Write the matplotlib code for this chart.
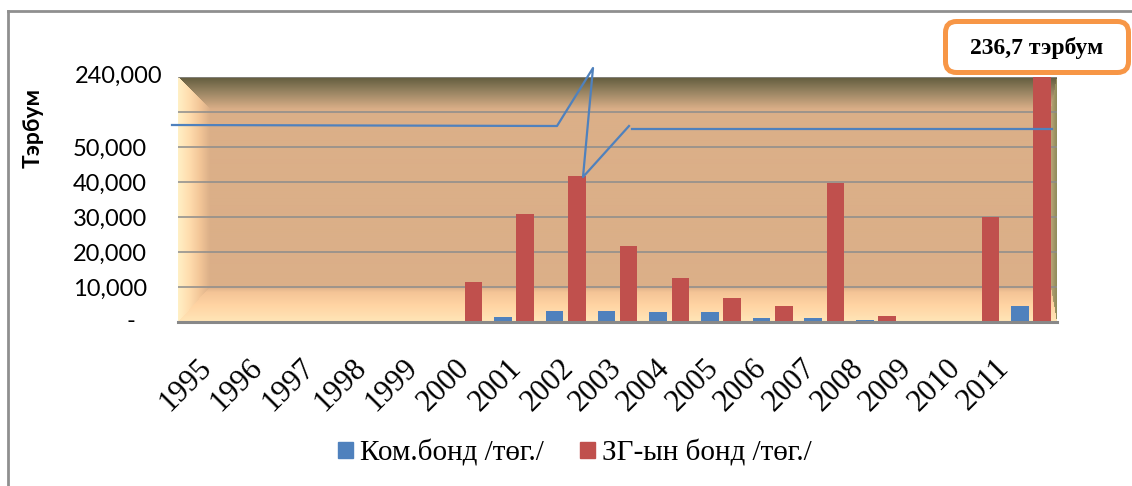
import numpy as np
import matplotlib
matplotlib.use("Agg")
import matplotlib.pyplot as plt
from matplotlib.lines import Line2D
from matplotlib.patches import FancyBboxPatch, Rectangle
from matplotlib.transforms import IdentityTransform, ScaledTranslation
from matplotlib.font_manager import FontProperties

# --- data ---
years = [str(y) for y in range(1995, 2012)]
kom_bond = [0, 0, 0, 0, 0, 0, 1400, 3100, 3100, 2900, 2900, 1200, 1200, 600, 0, 0, 4600]
zg_bond = [0, 0, 0, 0, 0, 11500, 30900, 41700, 21700, 12600, 6900, 4600, 39600, 1700, 0, 29900, 236700]
legend_labels = ["Ком.бонд /төг./", "ЗГ-ын бонд /төг./"]
ytick_vals = [10000, 20000, 30000, 40000, 50000]
ytick_labels = ["10,000", "20,000", "30,000", "40,000", "50,000"]
top_label = "240,000"
zero_label = "-"
callout = "236,7 тэрбум"
ylabel = "Тэрбум"

BLUE = "#4F81BD"
RED = "#C0504D"
SANS = ["Lato", "DejaVu Sans"]
SERIF = ["Liberation Serif", "DejaVu Serif"]

W, H = 1132, 486
fig = plt.figure(figsize=(W / 100, H / 100), dpi=100)
L, T, R, B = 178, 77, 1057, 322
ax = fig.add_axes([L / W, 1 - B / H, (R - L) / W, (B - T) / H])


# bevelled plot-area fill
def ramp(t, stops):
    pos = [s[0] for s in stops]
    cols = np.array([matplotlib.colors.to_rgb(s[1]) for s in stops])
    return np.stack([np.interp(t, pos, cols[:, k]) for k in range(3)], axis=-1)


pw, ph = R - L, B - T
xx, yy = np.meshgrid(np.arange(pw) + 0.5, np.arange(ph) + 0.5)
dist = np.stack([xx / 32, yy / 33, (ph - yy) / 35, (pw - xx) / 6])
which = dist.argmin(0)
t = dist.min(0).clip(0, 1)
tan = "#DBAF88"
bands = [
    [(0, "#FFF0C6"), (0.35, "#FFDDAE"), (0.7, "#F2C597"), (1, tan)],   # left
    [(0, "#5E593B"), (0.45, "#958260"), (1, tan)],                     # top
    [(0, "#FFE6B8"), (0.5, "#FFD3A2"), (0.85, "#F4C496"), (1, tan)],   # bottom
    [(0, "#8E8A5A"), (1, "#B9A476")],                                  # right
]
img = np.zeros((ph, pw, 3))
for i, st in enumerate(bands):
    m = which == i
    img[m] = ramp(t[m], st)
ax.imshow(img, extent=[0, 1, 0, 1], transform=ax.transAxes, aspect="auto",
          zorder=0, interpolation="bilinear")

# gridlines
for v in range(10000, 70001, 10000):
    ax.axhline(v, color="#8C8C8C", lw=1.1, zorder=2)
ax.axhline(0, color="#888888", lw=2.2, zorder=4, clip_on=False)

x = np.arange(len(years))
ax.bar(x - 0.215, kom_bond, 0.34, color=BLUE, zorder=3, label=legend_labels[0])
ax.bar(x + 0.215, zg_bond, 0.34, color=RED, zorder=3, label=legend_labels[1])

ax.set_xlim(-0.5, len(years) - 0.5)
ax.set_ylim(0, 70000)
for s in ax.spines.values():
    s.set_visible(False)

ax.tick_params(axis="y", length=0, pad=22.3)
ax.set_yticks(ytick_vals, ytick_labels, fontfamily=SANS, fontsize=17)

ax.tick_params(axis="x", length=0, pad=30)
ax.set_xticks(x, years)
xfont = FontProperties(family=SERIF, size=22)
# Excel squeezes the rotated labels slightly to the left towards the right end
for i, lab in enumerate(ax.get_xticklabels()):
    lab.set_fontproperties(xfont)
    lab.set_rotation(45)
    lab.set_ha("right")
    lab.set_va("center")
    lab.set_rotation_mode("anchor")
    dx = (3 - 3.3 * max(0, i - 7)) / 100
    lab.set_transform(lab.get_transform() + ScaledTranslation(dx, 0, fig.dpi_scale_trans))

ax.annotate(top_label, xy=(0, 70000), xycoords=("axes fraction", "data"),
            xytext=(-16, 1), textcoords="offset pixels", ha="right", va="center",
            fontsize=17, family=SANS, annotation_clip=False)
ax.annotate(zero_label, xy=(0, 0), xycoords=("axes fraction", "data"),
            xytext=(-43, 0), textcoords="offset pixels", ha="right", va="center",
            fontsize=17, family=SANS, annotation_clip=False)

fig.text(33 / W, 1 - 128 / H, ylabel, rotation=90, ha="center", va="center",
         fontsize=16.5, fontweight="bold", family=SANS)

# legend
handles = [Rectangle((0, 0), 1, 1, color=BLUE), Rectangle((0, 0), 1, 1, color=RED)]
fig.legend(handles, legend_labels, loc="center", bbox_to_anchor=(575 / W, 1 - 453 / H),
           ncol=2, frameon=False, prop={"family": SERIF, "size": 21},
           handlelength=0.5, handleheight=0.5, handletextpad=0.25, columnspacing=1.25)

# broken-axis zigzag
def fig_line(px, py, **kw):
    fig.add_artist(Line2D(np.array(px) / W, 1 - np.array(py) / H,
                          transform=fig.transFigure, **kw))


fig_line([172, 557, 593, 583, 629], [125, 126, 68, 177, 126], color=BLUE, lw=1.6, zorder=5)
fig_line([632, 1052], [129, 129], color=BLUE, lw=1.6, zorder=5)

# outer chart border (top and left visible)
fig_line([8, 8], [H, 11], color="#8F8F8F", lw=2, zorder=6)
fig_line([8, W], [11, 11], color="#8F8F8F", lw=2, zorder=6)

# callout box
box = FancyBboxPatch((945.5, H - 72.5), 183, 51, boxstyle="round,pad=0,rounding_size=11",
                     transform=IdentityTransform(), fc="white", ec="#F79646", lw=3.6, zorder=7)
fig.add_artist(box)
fig.text(1037 / W, 1 - 48 / H, callout, ha="center", va="center", fontsize=17,
         fontweight="bold", family=SERIF, zorder=8)

fig.savefig("out.png", dpi=100)
